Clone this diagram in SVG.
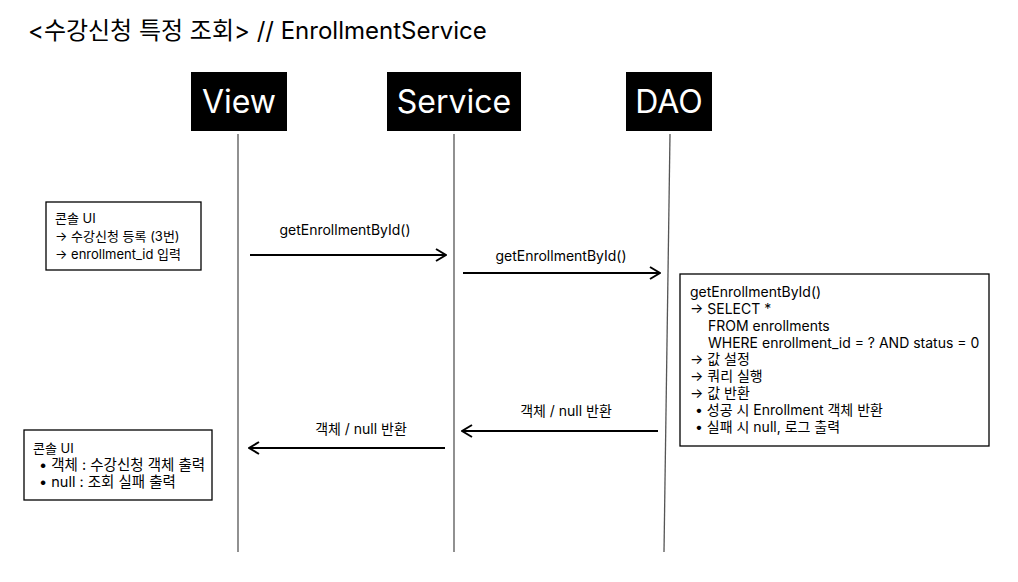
<svg xmlns="http://www.w3.org/2000/svg" width="1018" height="582" viewBox="0 0 1018 582">
  <defs>
    <marker id="open-arrow" viewBox="0 0 12 14" refX="11" refY="7" markerWidth="12" markerHeight="14" markerUnits="userSpaceOnUse" orient="auto">
      <path d="M1,1 L11,7 L1,13" fill="none" stroke="#000" stroke-width="2" stroke-linejoin="miter"/>
    </marker>
  </defs>
  <style>
    text { font-family: Inter, "Noto Sans CJK KR", sans-serif; fill: #000; }
    .title { font-size: 24px; }
    .head-box { fill: #000; }
    .head-text { font-size: 32px; fill: #fff; text-anchor: middle; }
    .lifeline { stroke: #555; stroke-width: 1.3; fill: none; }
    .note { fill: #fff; stroke: #000; stroke-width: 1.3; }
    .note-text { font-size: 14px; }
    .note-small { font-size: 13px; }
    .note-wide { font-size: 14.5px; }
    .msg { stroke: #000; stroke-width: 2; fill: none; marker-end: url(#open-arrow); }
    .msg-label { font-size: 14px; text-anchor: middle; }
  </style>
  <rect width="1018" height="582" fill="#fff"/>

  <text class="title" x="28" y="39">&lt;수강신청 특정 조회&gt; // EnrollmentService</text>

  <g id="view">
    <rect class="head-box" x="191" y="72" width="96" height="59"/>
    <text class="head-text" x="239" y="113">View</text>
    <line class="lifeline" x1="238" y1="134" x2="238" y2="552"/>
  </g>

  <g id="service">
    <rect class="head-box" x="387" y="72" width="134" height="59"/>
    <text class="head-text" x="454" y="113">Service</text>
    <line class="lifeline" x1="454" y1="134" x2="454" y2="552"/>
  </g>

  <g id="dao">
    <rect class="head-box" x="626" y="72" width="86" height="59"/>
    <text class="head-text" x="669" y="113">DAO</text>
    <line class="lifeline" x1="670" y1="134" x2="664" y2="552"/>
  </g>

  <g id="view-input-note">
    <rect class="note" x="46" y="202" width="155" height="68"/>
    <text class="note-small" x="55" y="223">콘솔 UI</text>
    <text class="note-small" x="55" y="241">→ 수강신청 등록 (3번)</text>
    <text class="note-small" x="55" y="259">→ enrollment_id 입력</text>
  </g>

  <g id="dao-query-note">
    <rect class="note" x="680" y="274" width="309" height="172"/>
    <text class="note-text" x="690" y="297">getEnrollmentById()</text>
    <text class="note-text" x="690" y="314">→ SELECT *</text>
    <text class="note-text" x="708" y="331">FROM enrollments</text>
    <text class="note-text" x="708" y="348">WHERE enrollment_id = ? AND status = 0</text>
    <text class="note-text" x="690" y="364">→ 값 설정</text>
    <text class="note-text" x="690" y="381">→ 쿼리 실행</text>
    <text class="note-text" x="690" y="398">→ 값 반환</text>
    <text class="note-text" x="695" y="415">• 성공 시 Enrollment 객체 반환</text>
    <text class="note-text" x="695" y="432">• 실패 시 null, 로그 출력</text>
  </g>

  <g id="view-output-note">
    <rect class="note" x="24" y="430" width="188" height="70"/>
    <text class="note-small" x="33" y="453">콘솔 UI</text>
    <text class="note-wide" x="39" y="470">• 객체 : 수강신청 객체 출력</text>
    <text class="note-wide" x="39" y="487">• null : 조회 실패 출력</text>
  </g>

  <g id="connectors">
    <line class="msg" x1="250" y1="255" x2="446" y2="255"/>
    <text class="msg-label" x="345" y="235">getEnrollmentById()</text>

    <line class="msg" x1="463" y1="273" x2="660" y2="273"/>
    <text class="msg-label" x="561" y="261">getEnrollmentById()</text>

    <line class="msg" x1="658" y1="431" x2="462" y2="431"/>
    <text class="msg-label" x="566" y="416">객체 / null 반환</text>

    <line class="msg" x1="445" y1="448" x2="249" y2="448"/>
    <text class="msg-label" x="361" y="434">객체 / null 반환</text>
  </g>
</svg>
